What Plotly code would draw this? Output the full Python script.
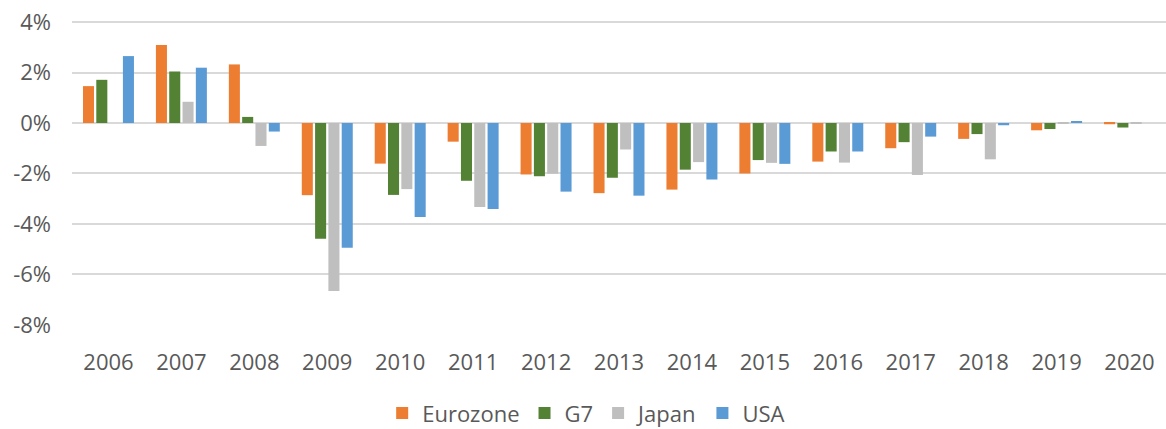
import plotly.graph_objects as go

years = [str(y) for y in range(2006, 2021)]

eurozone = [1.46, 3.09, 2.32, -2.86, -1.61, -0.74, -2.04, -2.78, -2.64, -2.00, -1.53, -1.00, -0.63, -0.29, -0.05]
g7 = [1.71, 2.04, 0.24, -4.59, -2.85, -2.29, -2.11, -2.17, -1.85, -1.47, -1.13, -0.76, -0.44, -0.24, -0.18]
japan = [0.0, 0.84, -0.91, -6.66, -2.62, -3.33, -2.01, -1.05, -1.55, -1.58, -1.57, -2.06, -1.44, -0.04, -0.03]
usa = [2.65, 2.19, -0.34, -4.94, -3.73, -3.41, -2.72, -2.88, -2.24, -1.62, -1.13, -0.54, -0.09, 0.04, 0.0]

y_ticks = [4, 2, 0, -2, -4, -6, -8]
y_labels = ["4%", "2%", "0%", "-2%", "-4%", "-6%", "-8%"]

series = [
    ("Eurozone", eurozone, "#ED7D31"),
    ("G7", g7, "#548235"),
    ("Japan", japan, "#BFBFBF"),
    ("USA", usa, "#5B9BD5"),
]

fig = go.Figure()
for name, vals, color in series:
    fig.add_trace(go.Bar(
        x=years,
        y=vals,
        name=name,
        marker=dict(color=color, line=dict(width=0)),
    ))

text_font = dict(family="Open Sans, Segoe UI, sans-serif", size=22, color="#595959")

fig.update_layout(
    width=1166,
    height=429,
    barmode="group",
    bargap=0.27,
    bargroupgap=0.17,
    plot_bgcolor="white",
    paper_bgcolor="white",
    margin=dict(l=72, r=0, t=20, b=104, autoexpand=False),
    font=text_font,
    showlegend=True,
    legend=dict(
        orientation="h",
        x=0.47, xanchor="center",
        yref="container",
        y=0.037, yanchor="middle",
        font=text_font,
        itemwidth=30,
        traceorder="normal",
    ),
    xaxis=dict(
        showgrid=False,
        showline=False,
        ticks="",
        ticklabelstandoff=22,
        tickfont=text_font,
    ),
    yaxis=dict(
        # a little headroom so the 4% gridline is not clipped at the edge
        range=[-8.004, 4.08],
        tickvals=y_ticks,
        ticktext=y_labels,
        showgrid=True,
        gridcolor="#D9D9D9",
        gridwidth=1.5,
        zeroline=True,
        zerolinecolor="#D9D9D9",
        zerolinewidth=1.5,
        showline=False,
        ticks="",
        ticklabelstandoff=20,
        tickfont=text_font,
    ),
)

# drop the default 8px body margin so the figure fills the window
fig.write_html(
    "out.html",
    config={"displayModeBar": False},
    post_script="document.body.style.margin='0';",
)
